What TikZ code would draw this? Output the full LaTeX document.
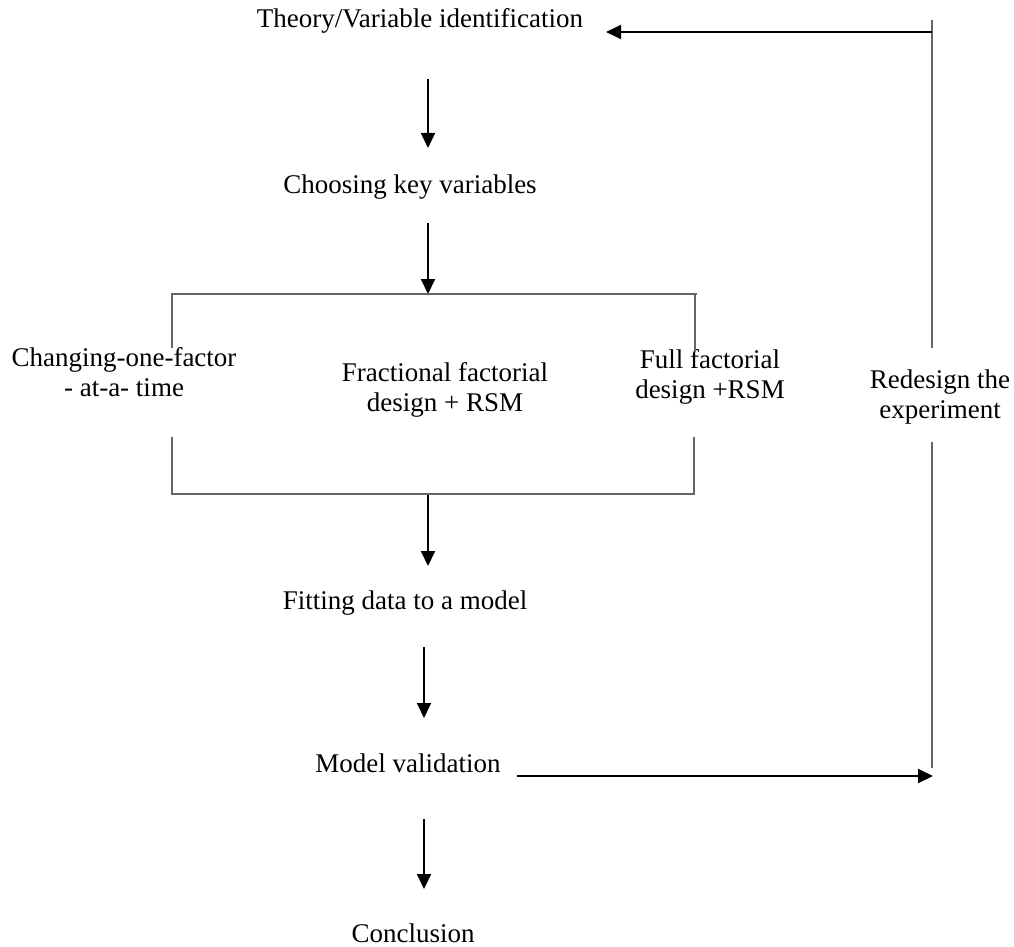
\documentclass[tikz,border=0pt]{standalone}
\usepackage{fontspec}
\setmainfont{Liberation Serif}
\usetikzlibrary{arrows.meta}
\begin{document}
\begin{tikzpicture}[x=1pt,y=-1pt,
  txt/.style={font=\fontsize{27}{30}\selectfont, inner sep=0pt, anchor=base, align=center},
  flow/.style={line width=2pt, -{Triangle[width=14pt,length=15pt]}},
  frame/.style={draw=black!60, line width=1.2pt}]
\useasboundingbox (0,0) rectangle (1014,947);

% stage labels (multi-line labels sit on the baseline of their last line)
\node[txt] (theory)   at (420,28)  {Theory/Variable identification};
\node[txt] (choose)   at (410,193) {Choosing key variables};
\node[txt] (ofat)     at (124,396) {Changing-one-factor\\- at-a- time};
\node[txt] (frac)     at (445,411) {Fractional factorial\\design + RSM};
\node[txt] (full)     at (710,398) {Full factorial\\design +RSM};
\node[txt] (redesign) at (940,418) {Redesign the\\experiment};
\node[txt] (fit)      at (405,609) {Fitting data to a model};
\node[txt] (valid)    at (408,772) {Model validation};
\node[txt] (concl)    at (413,942) {Conclusion};

% connector end points
\coordinate (a1s) at (428,79);   \coordinate (a1e) at (428,148);
\coordinate (a2s) at (428,223);  \coordinate (a2e) at (428,294);
\coordinate (tl)  at (172,348);  \coordinate (tr)  at (695,352);
\coordinate (tbar) at (697,294);
\coordinate (bl)  at (172,437);  \coordinate (br)  at (694,437);
\coordinate (bbar) at (694,494);
\coordinate (a3s) at (428,494);  \coordinate (a3e) at (428,566);
\coordinate (a4s) at (424,647);  \coordinate (a4e) at (424,718);
\coordinate (a5s) at (424,819);  \coordinate (a5e) at (424,889);
\coordinate (fbtop) at (932,20); \coordinate (fbup) at (932,348);
\coordinate (fblow) at (932,442);\coordinate (fbbot) at (932,768);
\coordinate (back) at (932,32);  \coordinate (backtip) at (606,32);
\coordinate (out) at (517,776);  \coordinate (outtip) at (933,776);

% main flow
\draw[flow] (a1s) -- (a1e);
\draw[flow] (a2s) -- (a2e);
\draw[flow] (a3s) -- (a3e);
\draw[flow] (a4s) -- (a4e);
\draw[flow] (a5s) -- (a5e);

% brackets around the three design options
\draw[frame] (tl) -- (tl |- tbar) -- (tbar);
\draw[frame] (tr |- tbar) -- (tr);
\draw[frame] (bl) -- (bl |- bbar) -- (bbar) -- (br);

% feedback loop
\draw[frame] (fbtop) -- (fbup);
\draw[frame] (fblow) -- (fbbot);
\draw[flow] (back) -- (backtip);
\draw[flow] (out) -- (outtip);
\end{tikzpicture}
\end{document}
